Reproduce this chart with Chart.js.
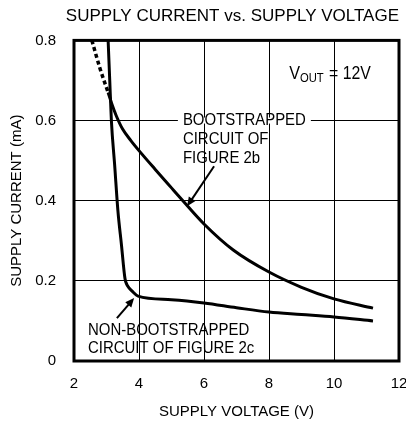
<!DOCTYPE html>
<html>
<head>
<meta charset="utf-8">
<script src="https://cdn.jsdelivr.net/npm/chart.js@4/dist/chart.umd.min.js"></script>
<style>
  html, body { margin: 0; padding: 0; background: #fff; }
  #wrap { width: 406px; height: 427px; }
</style>
</head>
<body>
<div id="wrap"><canvas id="c" width="406" height="427"></canvas></div>
<script>
// ---- data ----
const xTicks = [2, 4, 6, 8, 10, 12];
const yTicks = [0, 0.2, 0.4, 0.6, 0.8];

const nonBootV = [3.05, 3.10, 3.15, 3.25, 3.35, 3.46, 3.57, 3.62, 3.68, 3.78, 3.97, 5.0, 6.0, 7.0, 8.0, 9.0, 10.0, 11.2];
const nonBootI = [0.80, 0.70, 0.60, 0.49, 0.376, 0.29, 0.205, 0.192, 0.184, 0.175, 0.162, 0.153, 0.145, 0.133, 0.122, 0.116, 0.11, 0.10];

const bootV = [3.05, 3.17, 3.3, 3.5, 3.75, 4.0, 4.5, 5.0, 5.35, 6.0, 6.9, 8.0, 9.0, 10.0, 11.2];
const bootI = [0.67, 0.64, 0.612, 0.578, 0.55, 0.525, 0.478, 0.432, 0.40, 0.342, 0.277, 0.222, 0.184, 0.155, 0.132];

const bootDottedV = [2.55, 2.8, 3.05];
const bootDottedI = [0.80, 0.73, 0.67];

const titleText = 'SUPPLY CURRENT vs. SUPPLY VOLTAGE';
const xTitle = 'SUPPLY VOLTAGE (V)';
const yTitle = 'SUPPLY CURRENT (mA)';
const bootLabel = ['BOOTSTRAPPED', 'CIRCUIT OF', 'FIGURE 2b'];
const nonBootLabel = ['NON-BOOTSTRAPPED', 'CIRCUIT OF FIGURE 2c'];

const FONT = "'Liberation Sans', Arial, Helvetica, sans-serif";

function pts(xs, ys) { return xs.map((x, i) => ({ x: x, y: ys[i] })); }

function narrowText(ctx, t, x, y, size, sx) {
  ctx.save();
  ctx.translate(x, y);
  ctx.scale(sx, 1);
  ctx.font = size + 'px ' + FONT;
  ctx.fillText(t, 0, 0);
  const w = ctx.measureText(t).width * sx;
  ctx.restore();
  return w;
}

// ---- annotation plugin ----
const annot = {
  id: 'annot',
  beforeDatasetsDraw(chart) {
    const { ctx, chartArea: a } = chart;
    const xs = chart.scales.x, ys = chart.scales.y;
    ctx.save();
    // white gap in the 0.6 grid line behind the label
    const bx = xs.getPixelForValue(5.35), by = ys.getPixelForValue(0.6);
    ctx.fillStyle = '#fff';
    ctx.fillRect(bx - 5, by - 3, 133, 6);
    ctx.strokeStyle = '#000';
    ctx.lineWidth = 3;
    ctx.strokeRect(a.left, a.top, a.right - a.left, a.bottom - a.top);
    ctx.restore();
  },
  afterDatasetsDraw(chart) {
    const { ctx } = chart;
    const xs = chart.scales.x, ys = chart.scales.y;
    const px = v => xs.getPixelForValue(v), py = v => ys.getPixelForValue(v);
    ctx.save();
    ctx.fillStyle = '#000';
    ctx.textBaseline = 'middle';
    ctx.textAlign = 'left';
    // bootstrapped label
    const bx = px(5.35), by = py(0.6);
    bootLabel.forEach((t, i) => narrowText(ctx, t, bx, by + i * 19, 17, 0.88));
    // non-bootstrapped label
    const nx = px(2.43), ny = py(0.077);
    nonBootLabel.forEach((t, i) => narrowText(ctx, t, nx, ny + i * 18, 17, 0.88));
    // VOUT = 12V
    ctx.textBaseline = 'alphabetic';
    let vx = px(8.62), vy = py(0.703);
    vx += narrowText(ctx, 'V', vx, vy, 18, 0.9);
    vx += narrowText(ctx, 'OUT', vx, vy + 3, 12.5, 0.9) + 1;
    narrowText(ctx, ' = 12V', vx, vy, 18, 0.88);
    // arrows
    function arrow(x1, y1, x2, y2) {
      const ang = Math.atan2(y2 - y1, x2 - x1);
      const hl = 9, hw = 4;
      ctx.lineWidth = 2;
      ctx.beginPath();
      ctx.moveTo(x1, y1);
      ctx.lineTo(x2 - Math.cos(ang) * hl * 0.8, y2 - Math.sin(ang) * hl * 0.8);
      ctx.stroke();
      ctx.beginPath();
      ctx.moveTo(x2, y2);
      ctx.lineTo(x2 - hl * Math.cos(ang) + hw * Math.sin(ang), y2 - hl * Math.sin(ang) - hw * Math.cos(ang));
      ctx.lineTo(x2 - hl * Math.cos(ang) - hw * Math.sin(ang), y2 - hl * Math.sin(ang) + hw * Math.cos(ang));
      ctx.closePath();
      ctx.fill();
    }
    ctx.strokeStyle = '#000';
    arrow(px(6.31), py(0.486), px(5.48), py(0.386));
    arrow(px(3.32), py(0.107), px(3.85), py(0.157));
    ctx.restore();
  }
};

new Chart(document.getElementById('c'), {
  type: 'scatter',
  data: {
    datasets: [
      { label: 'Non-bootstrapped', data: pts(nonBootV, nonBootI), showLine: true,
        borderColor: '#000', borderWidth: 3, pointRadius: 0, cubicInterpolationMode: 'monotone' },
      { label: 'Bootstrapped', data: pts(bootV, bootI), showLine: true,
        borderColor: '#000', borderWidth: 3, pointRadius: 0, cubicInterpolationMode: 'monotone' },
      { label: 'Bootstrapped (dotted)', data: pts(bootDottedV, bootDottedI), showLine: true,
        borderColor: '#000', borderWidth: 3.5, borderDash: [4, 3], pointRadius: 0, cubicInterpolationMode: 'monotone' }
    ]
  },
  options: {
    responsive: false,
    animation: false,
    layout: { padding: { left: 0, right: 7, top: 0, bottom: 0 } },
    plugins: {
      legend: { display: false },
      tooltip: { enabled: false },
      title: { display: true, text: titleText, align: 'end', color: '#000',
        font: { family: FONT, size: 17, weight: 'normal', lineHeight: 1.2 },
        padding: { top: 6, bottom: 14 } }
    },
    scales: {
      x: {
        type: 'linear', min: 2, max: 12,
        afterFit(s) { s.height = 66; s.paddingLeft = 0; s.paddingRight = 0; },
        afterBuildTicks(s) { s.ticks = xTicks.map(v => ({ value: v })); },
        grid: { color: '#000', lineWidth: 1, drawTicks: false },
        border: { display: false },
        ticks: { color: '#000', padding: 14, font: { family: FONT, size: 15 }, maxRotation: 0,
          callback: v => String(v) },
        title: { display: true, text: xTitle, color: '#000', font: { family: FONT, size: 15 },
          padding: { top: 0, bottom: 6 } }
      },
      y: {
        type: 'linear', min: 0, max: 0.8,
        afterFit(s) { s.width = 74; s.paddingTop = 0; s.paddingBottom = 0; },
        afterBuildTicks(s) { s.ticks = yTicks.map(v => ({ value: v })); },
        grid: { color: '#000', lineWidth: 1, drawTicks: false },
        border: { display: false },
        ticks: { color: '#000', padding: 18, font: { family: FONT, size: 15 },
          callback: v => (v === 0 ? '0' : v.toFixed(1)) },
        title: { display: true, text: yTitle, color: '#000', font: { family: FONT, size: 15 },
          padding: { top: 8, bottom: 0 } }
      }
    }
  },
  plugins: [annot]
});
</script>
</body>
</html>
